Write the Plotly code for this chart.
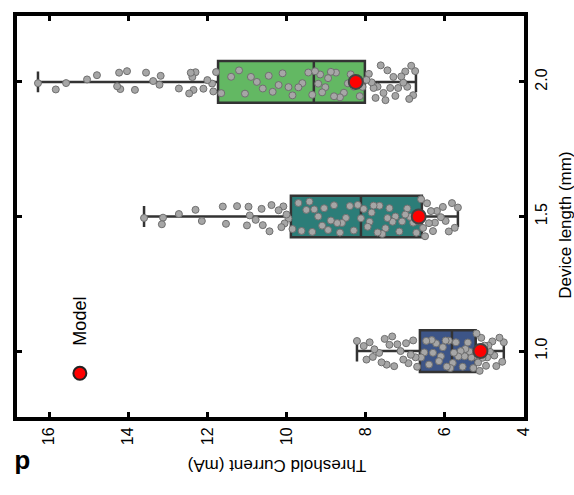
import plotly.graph_objects as go

# ---------------- data ----------------
lengths = [1.0, 1.5, 2.0]
length_ticks = ["1.0", "1.5", "2.0"]
current_ticks = [4, 6, 8, 10, 12, 14, 16]

# box statistics (mA)
q1 = [5.22, 6.58, 8.02]
median = [5.82, 8.12, 9.31]
q3 = [6.63, 9.89, 11.73]
lowerfence = [4.51, 5.67, 6.73]
upperfence = [8.22, 13.60, 16.28]

# model values (mA)
model = [5.10, 6.66, 8.25]

# individual device measurements (mA)
pts_10 = [8.22, 8.05, 7.98, 7.9, 7.82, 7.78, 7.66, 7.6, 7.52, 7.47, 7.4, 7.33, 7.28, 7.2,
          7.12, 7.05, 6.98, 6.92, 6.86, 6.8, 6.74, 6.7, 6.6, 6.52, 6.47, 6.4, 6.33, 6.3,
          6.22, 6.15, 6.1, 6.05, 5.98, 5.95, 5.9, 5.86, 5.8, 5.77, 5.72, 5.66, 5.6, 5.55,
          5.5, 5.48, 5.42, 5.38, 5.33, 5.28, 5.25, 5.2, 5.16, 5.12, 5.08, 5.05, 5.0, 4.96,
          4.93, 4.9, 4.86, 4.8, 4.75, 4.7, 4.62, 4.55, 4.51]
pts_15 = [13.6, 13.15, 13.12, 12.72, 12.3, 12.14, 11.61, 11.53, 11.25, 11.0, 10.96, 10.93,
          10.78, 10.63, 10.6, 10.43, 10.38, 10.2, 10.13, 10.08, 10.05, 10.0, 9.95, 9.85,
          9.7, 9.62, 9.5, 9.42, 9.35, 9.3, 9.2, 9.1, 9.05, 8.95, 8.88, 8.8, 8.72, 8.65, 8.6,
          8.5, 8.4, 8.3, 8.2, 8.12, 8.05, 7.95, 7.9, 7.85, 7.8, 7.7, 7.65, 7.58, 7.5, 7.45,
          7.4, 7.32, 7.25, 7.15, 7.08, 7.0, 6.95, 6.88, 6.8, 6.72, 6.65, 6.6, 6.55, 6.5,
          6.45, 6.4, 6.35, 6.3, 6.25, 6.2, 6.1, 6.05, 5.98, 5.9, 5.82, 5.75, 5.67]
pts_20 = [16.28, 15.83, 15.57, 15.04, 14.79, 14.28, 14.23, 14.2, 14.03, 13.83, 13.55, 13.37,
          13.21, 13.18, 12.72, 12.46, 12.42, 12.38, 12.35, 12.3, 12.1, 12.0, 11.88, 11.85,
          11.78, 11.65, 11.4, 11.2, 11.05, 10.9, 10.75, 10.6, 10.45, 10.35, 10.2, 10.1, 9.95,
          9.85, 9.7, 9.6, 9.45, 9.35, 9.28, 9.2, 9.15, 9.1, 9.02, 8.95, 8.88, 8.8, 8.75,
          8.65, 8.55, 8.45, 8.38, 8.3, 8.22, 8.15, 8.08, 7.98, 7.92, 7.85, 7.8, 7.75, 7.7,
          7.62, 7.55, 7.5, 7.45, 7.38, 7.3, 7.25, 7.18, 7.1, 7.05, 7.0, 6.95, 6.9, 6.85,
          6.8, 6.75]
points = [pts_10, pts_15, pts_20]

box_colors = ["#3d5587", "#2c7d78", "#63b863"]

# ---------------- figure ----------------
fig = go.Figure()
BW = 0.155
for i, L in enumerate(lengths):
    fig.add_trace(go.Box(
        y=[L], q1=[q1[i]], median=[median[i]], q3=[q3[i]],
        lowerfence=[lowerfence[i]], upperfence=[upperfence[i]],
        orientation="h", width=BW, fillcolor=box_colors[i],
        line=dict(color="#333333", width=2.5), whiskerwidth=0.5,
        boxpoints=False, showlegend=False, hoverinfo="skip"))

for i, L in enumerate(lengths):
    fig.add_trace(go.Box(
        x=points[i], y=[L] * len(points[i]), orientation="h", width=BW,
        boxpoints="all", jitter=1.0, pointpos=0,
        fillcolor="rgba(0,0,0,0)", line=dict(color="rgba(0,0,0,0)", width=0),
        marker=dict(size=7, color="#a6a6a6", line=dict(color="#6f6f6f", width=1)),
        showlegend=False))

fig.add_trace(go.Scatter(
    x=model, y=lengths, mode="markers", showlegend=False,
    marker=dict(size=14, color="#ff0000", line=dict(color="#444444", width=2))))

axis_common = dict(showline=True, linecolor="black", linewidth=4, mirror="ticks",
                   ticks="inside", ticklen=5, tickwidth=3, tickcolor="black",
                   showgrid=False, zeroline=False,
                   tickfont=dict(family="Liberation Sans, Arial", size=16, color="black"))

fig.update_layout(
    width=574, height=495,
    margin=dict(l=17, r=50, t=12, b=78),
    paper_bgcolor="white", plot_bgcolor="white",
    boxmode="overlay",
    xaxis=dict(range=[16.81, 4.0], tickvals=current_ticks,
               ticktext=[str(v) for v in current_ticks], tickangle=-90, **axis_common),
    yaxis=dict(range=[0.755, 2.245], side="right", tickvals=lengths,
               ticktext=length_ticks, tickangle=-90, **axis_common),
    font=dict(family="Liberation Sans, Arial", color="black"),
)

fig.add_annotation(text="Device length (mm)", xref="paper", yref="paper",
                   x=1.083, y=0.477, showarrow=False, textangle=-90,
                   font=dict(size=17), xanchor="center", yanchor="middle")
fig.add_annotation(text="Threshold Current (mA)", xref="paper", yref="paper",
                   x=0.513, y=-0.121, showarrow=False, textangle=180,
                   font=dict(size=17), xanchor="center", yanchor="middle")
fig.add_annotation(text="<b>d</b>", xref="paper", yref="paper",
                   x=0.01, y=-0.119, showarrow=False, textangle=180,
                   font=dict(size=26), xanchor="center", yanchor="middle")
# legend
fig.add_annotation(text="Model", xref="paper", yref="paper",
                   x=0.124, y=0.24, showarrow=False, textangle=-90,
                   font=dict(size=18), xanchor="center", yanchor="middle")
fig.add_shape(type="circle", xref="paper", yref="paper", xsizemode="pixel",
              ysizemode="pixel", xanchor=0.124, yanchor=0.109,
              x0=-6.5, x1=6.5, y0=-6.5, y1=6.5,
              fillcolor="#ff0000", line=dict(color="#222222", width=2))

fig.write_html("out.html")
